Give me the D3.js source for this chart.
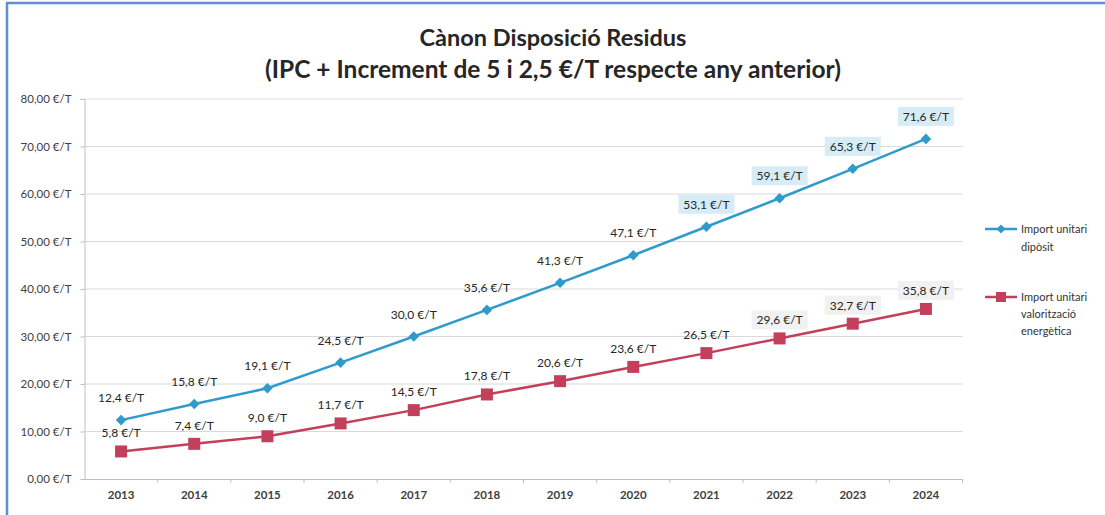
<!DOCTYPE html>
<html><head><meta charset="utf-8">
<script src="https://cdn.jsdelivr.net/npm/d3@7/dist/d3.min.js"></script>
<style>body{margin:0;background:#fff}svg{display:block}text{font-family:Lato,"Open Sans",sans-serif}</style>
</head><body><svg id="c" width="1105" height="515"></svg>
<script>
const years = ["2013","2014","2015","2016","2017","2018","2019","2020","2021","2022","2023","2024"];
const diposit = [12.4,15.8,19.1,24.5,30.0,35.6,41.3,47.1,53.1,59.1,65.3,71.6];
const valoritzacio = [5.8,7.4,9.0,11.7,14.5,17.8,20.6,23.6,26.5,29.6,32.7,35.8];
const yTicks = [0,10,20,30,40,50,60,70,80];
const titleLines = ["Cànon Disposició Residus","(IPC + Increment de 5 i 2,5 €/T respecte any anterior)"];
const legend1 = ["Import unitari","dipòsit"];
const legend2 = ["Import unitari","valorització","energètica"];
const blueHighlight = ["2021","2022","2023","2024"];
const redHighlight = ["2022","2023","2024"];

const svg = d3.select("#c");
const fmt = v => v.toFixed(1).replace(".", ",") + " €/T";
const fmtAxis = v => v.toFixed(2).replace(".", ",") + " €/T";
const blue = "#2f9bcc", red = "#c2405c";

// frame border
svg.append("path").attr("d","M7,515 V3 H1105").attr("fill","none").attr("stroke","#5b8fd6").attr("stroke-width",2.5);

const x = d3.scaleBand().domain(years).range([84.5, 962.5]);
const y = d3.scaleLinear().domain([0, 80]).range([479, 99]);
const cx = d => x(d) + x.bandwidth()/2;

// title
svg.append("g").selectAll("text").data(titleLines).join("text")
  .attr("x", 553).attr("y", (d,i) => 46 + i*32).attr("text-anchor","middle")
  .attr("font-size", (d,i) => i === 0 ? 23.5 : 24.5).attr("font-weight", 700).attr("fill","#262626").text(d => d);

// grid
svg.append("g").selectAll("line").data(yTicks.filter(t => t>0)).join("line")
  .attr("x1", 84.5).attr("x2", 962.5).attr("y1", d => y(d)).attr("y2", d => y(d))
  .attr("stroke","#d9d9d9").attr("stroke-width",1);

// y axis
const yAxis = svg.append("g").attr("transform","translate(84.5,0)")
  .call(d3.axisLeft(y).tickValues(yTicks).tickFormat(fmtAxis).tickSize(4).tickPadding(9));
yAxis.select(".domain").attr("stroke","#bfbfbf");
yAxis.selectAll(".tick line").attr("stroke","#bfbfbf");
yAxis.selectAll("text").attr("font-size",11.5).attr("fill","#404040").attr("font-family","Lato");

// x axis
const xAxis = svg.append("g").attr("transform","translate(0,479)")
  .call(d3.axisBottom(x).tickSize(0).tickPadding(12));
xAxis.select(".domain").attr("stroke","#bfbfbf");
xAxis.selectAll("text").attr("font-size",11.5).attr("font-weight",700).attr("fill","#404040").attr("font-family","Lato");
xAxis.selectAll(".bound").data(years).join("line").attr("class","bound")
  .attr("x1", d => x(d) + x.bandwidth()).attr("x2", d => x(d) + x.bandwidth())
  .attr("y1", 0).attr("y2", 4).attr("stroke","#bfbfbf");

const line = d3.line().x(d => cx(d[0])).y(d => y(d[1]));
const blueData = years.map((yr,i) => [yr, diposit[i]]);
const redData = years.map((yr,i) => [yr, valoritzacio[i]]);

svg.append("path").datum(redData).attr("d", line).attr("fill","none").attr("stroke",red).attr("stroke-width",2.5);
svg.append("path").datum(blueData).attr("d", line).attr("fill","none").attr("stroke",blue).attr("stroke-width",2.5);

svg.append("g").selectAll("rect").data(redData).join("rect")
  .attr("x", d => cx(d[0]) - 6).attr("y", d => y(d[1]) - 6).attr("width",12).attr("height",12).attr("fill",red);
svg.append("g").selectAll("path").data(blueData).join("path")
  .attr("d", d3.symbol(d3.symbolSquare, 56))
  .attr("transform", d => `translate(${cx(d[0])},${y(d[1])}) rotate(45)`).attr("fill",blue);

function labels(data, hl, bg, off) {
  const g = svg.append("g");
  g.selectAll("rect").data(data.filter(d => hl.includes(d[0]))).join("rect")
    .attr("x", d => cx(d[0]) - 28).attr("y", d => y(d[1]) - off - 10).attr("width",56).attr("height",19).attr("fill",bg);
  g.selectAll("text").data(data).join("text")
    .attr("x", d => cx(d[0])).attr("y", d => y(d[1]) - off + 4).attr("text-anchor","middle")
    .attr("font-size",12).attr("fill","#262626").text(d => fmt(d[1]));
}
labels(blueData, blueHighlight, "#d6edf7", 22);
labels(redData, redHighlight, "#f1f1f1", 18);

// legend
const lg = svg.append("g");
lg.append("line").attr("x1",985).attr("x2",1017).attr("y1",229).attr("y2",229).attr("stroke",blue).attr("stroke-width",2.5);
lg.append("path").attr("d", d3.symbol(d3.symbolSquare, 40)).attr("transform","translate(1001,229) rotate(45)").attr("fill",blue);
lg.append("line").attr("x1",985).attr("x2",1017).attr("y1",297).attr("y2",297).attr("stroke",red).attr("stroke-width",2.5);
lg.append("rect").attr("x",996).attr("y",292).attr("width",10).attr("height",10).attr("fill",red);
lg.selectAll(".l1").data(legend1).join("text").attr("class","l1")
  .attr("x",1021).attr("y",(d,i) => 233 + i*18).attr("font-size",11).attr("fill","#333").text(d => d);
lg.selectAll(".l2").data(legend2).join("text").attr("class","l2")
  .attr("x",1021).attr("y",(d,i) => 301 + i*17).attr("font-size",11).attr("fill","#333").text(d => d);
</script></body></html>
